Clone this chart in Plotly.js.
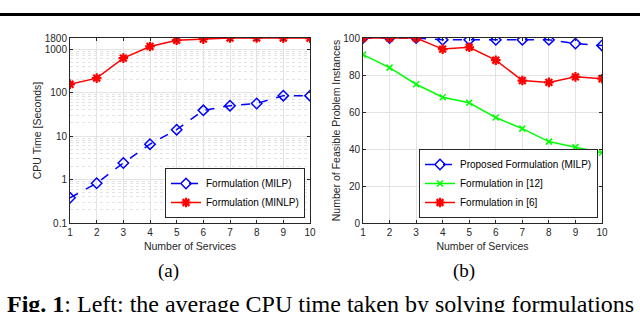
<!DOCTYPE html>
<html><head><meta charset="utf-8">
<script src="https://cdn.plot.ly/plotly-3.0.1.min.js"></script>
<style>html,body{margin:0;padding:0;background:#fff;}#chart{width:640px;height:312px;}</style>
</head><body><div id="chart"></div>
<script>
// Data
const services = [1,2,3,4,5,6,7,8,9,10];
const cpuMILP  = [0.38, 0.82, 2.4, 6.5, 14, 39, 50, 56, 85, 85];
const cpuMINLP = [155, 215, 620, 1150, 1600, 1700, 1800, 1800, 1790, 1790];
const feasProposed = [100, 100, 100, 99, 99, 99, 99, 99, 97, 96];
const feasRef12    = [91, 84, 75, 68, 65, 57, 51, 44, 41, 38];
const feasRef6     = [100, 100, 100, 94, 95, 88, 77, 76, 79, 78];
const cpuTickVals = [0.1, 1, 10, 100, 1000, 1800];
const cpuTickText = ['0.1', '1', '10', '100', '1000', '1800'];
const feasTickVals = [0, 20, 40, 60, 80, 100];
const serviceTicks = [1,2,3,4,5,6,7,8,9,10];
const nameMILP = 'Formulation (MILP)';
const nameMINLP = 'Formulation (MINLP)';
const nameProposed = 'Proposed Formulation (MILP)';
const nameRef12 = 'Formulation in [12]';
const nameRef6 = 'Formulation in [6]';

const BLUE = '#0000ff', RED = '#ff0000', GREEN = '#00ff00';
const FONT = 'Liberation Sans, Arial, sans-serif';
const SERIF = 'Liberation Serif, Times New Roman, serif';

const minorLog = [];
for (let e = -1; e <= 3; e++) for (let m = 2; m <= 9; m++) { const v = m * Math.pow(10, e); if (v < 1800) minorLog.push(v); }

const data = [
  {x: services, y: cpuMILP, name: nameMILP, type: 'scatter', mode: 'lines+markers',
   line: {color: BLUE, dash: 'dash', width: 1.5},
   marker: {symbol: 'diamond-open', size: 8, color: BLUE, line: {width: 1.5, color: BLUE}},
   xaxis: 'x', yaxis: 'y', legend: 'legend'},
  {x: services, y: cpuMINLP, name: nameMINLP, type: 'scatter', mode: 'lines+markers',
   line: {color: RED, width: 1.5},
   marker: {symbol: 'asterisk-open', size: 8, color: RED, line: {width: 2.2, color: RED}},
   xaxis: 'x', yaxis: 'y', legend: 'legend'},
  {x: services, y: feasProposed, name: nameProposed, type: 'scatter', mode: 'lines+markers',
   line: {color: BLUE, dash: 'dash', width: 1.5},
   marker: {symbol: 'diamond-open', size: 8, color: BLUE, line: {width: 1.5, color: BLUE}},
   xaxis: 'x2', yaxis: 'y2', legend: 'legend2'},
  {x: services, y: feasRef12, name: nameRef12, type: 'scatter', mode: 'lines+markers',
   line: {color: GREEN, width: 1.5},
   marker: {symbol: 'x-thin-open', size: 6, color: GREEN, line: {width: 1.5, color: GREEN}},
   xaxis: 'x2', yaxis: 'y2', legend: 'legend2'},
  {x: services, y: feasRef6, name: nameRef6, type: 'scatter', mode: 'lines+markers',
   line: {color: RED, width: 1.5},
   marker: {symbol: 'asterisk-open', size: 8, color: RED, line: {width: 2.2, color: RED}},
   xaxis: 'x2', yaxis: 'y2', legend: 'legend2'}
];

const axBase = {
  showline: true, linecolor: '#262626', linewidth: 1, mirror: 'ticks',
  ticks: 'inside', ticklen: 3, tickcolor: '#262626',
  showgrid: true, gridcolor: '#e3e3e3', gridwidth: 1, zeroline: false,
  tickfont: {family: FONT, size: 10, color: '#262626'}
};
const H = 312, W = 640;
const yDom = [1 - 223/H, 1 - 38/H];
const titleFont = {family: FONT, size: 10.5, color: '#262626'};

const layout = {
  width: W, height: H, margin: {l: 0, r: 0, t: 0, b: 0},
  paper_bgcolor: '#fff', plot_bgcolor: '#fff', showlegend: true,
  font: {family: FONT, size: 10, color: '#262626'},
  xaxis: Object.assign({}, axBase, {domain: [70/W, 310/W], range: [1, 10], tickmode: 'array', tickvals: serviceTicks,
    title: {text: 'Number of Services', font: titleFont, standoff: 5}}),
  yaxis: Object.assign({}, axBase, {domain: yDom, type: 'log', range: [-1, Math.log10(1800)],
    tickmode: 'array', tickvals: cpuTickVals, ticktext: cpuTickText,
    minor: {tickmode: 'array', tickvals: minorLog, showgrid: true, gridcolor: '#e3e3e3', griddash: 'dot', gridwidth: 1, ticks: ''},
    title: {text: 'CPU Time [Seconds]', font: titleFont, standoff: 1}}),
  xaxis2: Object.assign({}, axBase, {domain: [363/W, 602/W], range: [1, 10], tickmode: 'array', tickvals: serviceTicks, anchor: 'y2',
    title: {text: 'Number of Services', font: titleFont, standoff: 5}}),
  yaxis2: Object.assign({}, axBase, {domain: yDom, range: [0, 100], tickmode: 'array', tickvals: feasTickVals, anchor: 'x2',
    title: {text: 'Number of Feasible Problem Instances', font: titleFont, standoff: 0}}),
  legend: {x: 305/W, y: 1 - 218/H, xanchor: 'right', yanchor: 'bottom', bgcolor: '#fff', bordercolor: '#262626', borderwidth: 1,
    font: {family: FONT, size: 10, color: '#000'}, tracegroupgap: 0, itemwidth: 30},
  legend2: {x: 598/W, y: 1 - 218/H, xanchor: 'right', yanchor: 'bottom', bgcolor: '#fff', bordercolor: '#262626', borderwidth: 1,
    font: {family: FONT, size: 10, color: '#000'}, tracegroupgap: 0, itemwidth: 30},
  shapes: [{type: 'line', xref: 'paper', yref: 'paper', x0: 0, x1: 1, y0: 1 - 14.5/H, y1: 1 - 14.5/H, line: {color: '#000', width: 3}}],
  annotations: [
    {xref: 'paper', yref: 'paper', x: 168/W, y: 1 - 271/H, xanchor: 'center', yanchor: 'middle', text: '(a)', showarrow: false, font: {family: SERIF, size: 19, color: '#000'}},
    {xref: 'paper', yref: 'paper', x: 464/W, y: 1 - 271/H, xanchor: 'center', yanchor: 'middle', text: '(b)', showarrow: false, font: {family: SERIF, size: 19, color: '#000'}},
    {xref: 'paper', yref: 'paper', x: 5/W, y: 1 - 304/H, xanchor: 'left', yanchor: 'middle', text: '<b>Fig. 1</b>: Left: the average CPU time taken by solving formulations', showarrow: false, font: {family: SERIF, size: 24, color: '#000'}}
  ]
};
Plotly.newPlot('chart', data, layout, {staticPlot: true, displayModeBar: false});
</script></body></html>
